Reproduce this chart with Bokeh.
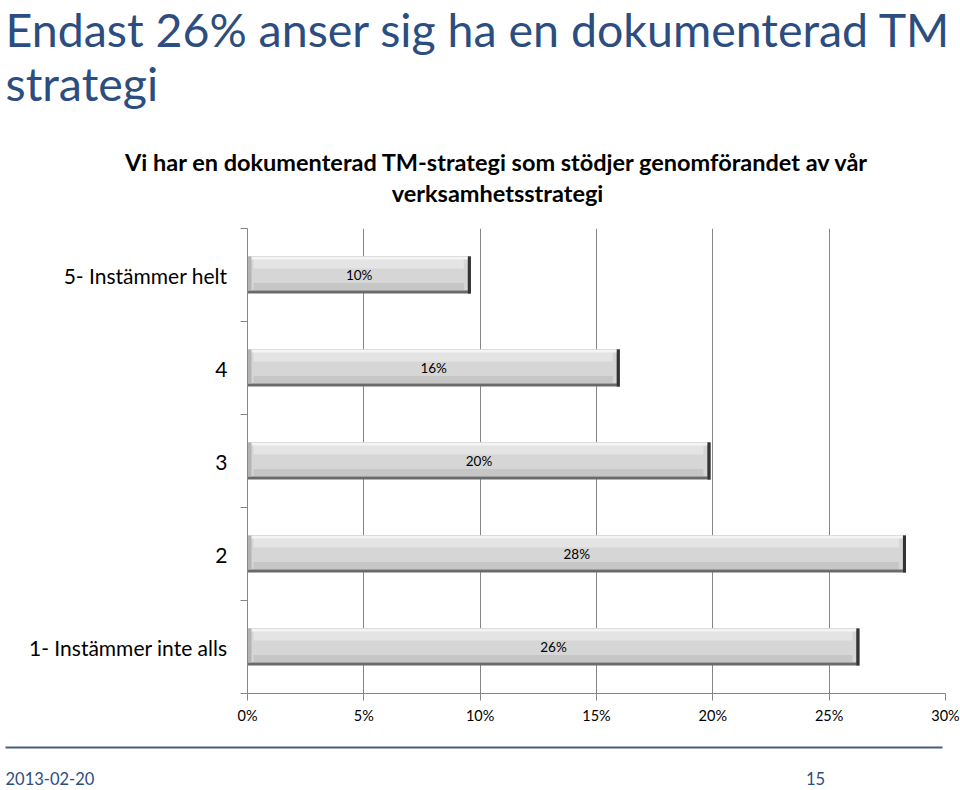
from bokeh.plotting import figure
from bokeh.layouts import column, row
from bokeh.models import Range1d, FixedTicker, PrintfTickFormatter, ColumnDataSource
from bokeh.core.properties import value
from bokeh.embed import file_html
from bokeh.resources import INLINE

# ---- data ----
categories = ["1- Instämmer inte alls", "2", "3", "4", "5- Instämmer helt"]
shares = [26.3, 28.3, 19.9, 16.0, 9.6]          # percent
x_ticks = [0, 5, 10, 15, 20, 25, 30]
title_lines = ["Endast 26% anser sig ha en dokumenterad TM", "strategi"]
subtitle_lines = ["Vi har en dokumenterad TM-strategi som stödjer genomförandet av vår",
                  "verksamhetsstrategi"]
footer_date = "2013-02-20"
footer_page = "15"

FONT = "Lato"
TITLE_COLOR = "#2C4D7F"
AX = "#868686"
W, HGT = 960, 790
FL, FR, FT, FB = 247, 945, 228, 693          # plot frame in page pixels
CH_BOTTOM = 735                              # chart figure bottom in page pixels
XMAX = 30
n = len(categories)
MID = 0.387                                  # baseline -> middle shift (em)


def bare(fig):
    fig.axis.visible = False
    fig.grid.visible = False
    fig.outline_line_color = None
    fig.min_border = 0
    fig.background_fill_color = "white"
    fig.border_fill_color = "white"
    return fig


# ---- header (page pixel coordinates, y downwards) ----
head = bare(figure(width=W, height=FT, x_range=Range1d(0, W), y_range=Range1d(FT, 0),
                   output_backend="svg", toolbar_location=None))
TS = 46.5
head.text(x=[5, 5], y=[46.5 - MID * TS, 100 - MID * TS], text=title_lines, text_font=value(FONT),
          text_font_size=f"{TS}px", text_color=TITLE_COLOR, text_align="left",
          text_baseline="middle")
SS = 23.5
head.text(x=[497, 497], y=[170.5 - MID * SS, 201.5 - MID * SS], text=subtitle_lines,
          text_font=value(FONT), text_font_size=f"{SS}px", text_font_style="bold",
          text_color="black", text_align="center", text_baseline="middle")

# ---- chart ----
p = figure(width=W, height=CH_BOTTOM - FT, x_range=Range1d(0, XMAX), y_range=Range1d(0, n),
           output_backend="svg", toolbar_location=None)
p.min_border_left = FL
p.min_border_right = W - FR
p.min_border_top = 0
p.min_border_bottom = CH_BOTTOM - FB
p.outline_line_color = None
p.background_fill_color = "white"
p.border_fill_color = "white"

p.xaxis.ticker = FixedTicker(ticks=x_ticks)
p.xaxis.formatter = PrintfTickFormatter(format="%d%%")
p.xaxis.axis_line_color = AX
p.xaxis.major_tick_line_color = AX
p.xaxis.major_tick_out = 7
p.xaxis.major_tick_in = 0
p.xaxis.minor_tick_line_color = None
p.xaxis.major_label_standoff = 6
p.xaxis.major_label_text_font = FONT
p.xaxis.major_label_text_font_size = "14.5px"
p.xaxis.major_label_text_color = "black"

ypos = [i + 0.5 for i in range(n)]
p.yaxis.ticker = FixedTicker(ticks=ypos, minor_ticks=list(range(n + 1)))
p.yaxis.major_label_overrides = {y: c for y, c in zip(ypos, categories)}
p.yaxis.axis_line_color = AX
p.yaxis.major_tick_line_color = None
p.yaxis.major_tick_out = 0
p.yaxis.major_tick_in = 0
p.yaxis.minor_tick_line_color = AX
p.yaxis.minor_tick_out = 7
p.yaxis.minor_tick_in = 0
p.yaxis.major_label_standoff = 13
p.yaxis.major_label_text_font = FONT
p.yaxis.major_label_text_font_size = "21px"
p.yaxis.major_label_text_color = "black"

p.ygrid.visible = False
p.xgrid.ticker = FixedTicker(ticks=x_ticks[1:])
p.xgrid.grid_line_color = AX
p.xgrid.grid_line_width = 1

# bevelled grey bars, in layers
src = ColumnDataSource(dict(y=ypos, v=shares, mid=[s / 2 for s in shares],
                            lab=[f"{round(s)}%" for s in shares]))
H = 0.40
px = XMAX / (FR - FL)
py = n / (FB - FT)
p.hbar(y="y", left=0, right="v", height=H, source=src, fill_color="#6a6a6a", line_color=None)
body = ColumnDataSource(dict(y=[y + 1.5 * py for y in ypos], r=[s - 3 * px for s in shares]))
p.hbar(y="y", left=0, right="r", height=H - 3 * py, source=body, fill_color="#d6d6d6", line_color=None)
top = ColumnDataSource(dict(y=[y + H / 2 - 7 * py for y in ypos], r=[s - 7 * px for s in shares]))
p.hbar(y="y", left=6 * px, right="r", height=10 * py, source=top, fill_color="#e4e4e4", line_color=None)
hl = ColumnDataSource(dict(y=[y + H / 2 - 1.5 * py for y in ypos], r=[s - 3 * px for s in shares]))
p.hbar(y="y", left=0, right="r", height=3 * py, source=hl, fill_color="#f4f4f4", line_color=None)
low = ColumnDataSource(dict(y=[y - H / 2 + 7 * py for y in ypos], r=[s - 7 * px for s in shares]))
p.hbar(y="y", left=6 * px, right="r", height=7 * py, source=low, fill_color="#c6c6c6", line_color=None)
lft = ColumnDataSource(dict(y=[y + 1.5 * py for y in ypos]))
p.hbar(y="y", left=0, right=4 * px, height=H - 3 * py, source=lft, fill_color="#b4b4b4", line_color=None)
rgt = ColumnDataSource(dict(y=ypos, l=[s - 3 * px for s in shares], r=shares))
p.hbar(y="y", left="l", right="r", height=H, source=rgt, fill_color="#333333", line_color=None)

p.text(x="mid", y="y", text="lab", source=src, text_font=value(FONT), text_font_size="13.5px",
       text_color="black", text_align="center", text_baseline="middle")

# ---- footer (page pixel coordinates, y downwards) ----
foot = bare(figure(width=W, height=HGT - CH_BOTTOM, x_range=Range1d(0, W),
                   y_range=Range1d(HGT, CH_BOTTOM), output_backend="svg", toolbar_location=None))
foot.line(x=[5, 942], y=[747, 747], line_color="#4A5E7A", line_width=2)
FS = 16.5
foot.text(x=[5], y=[784 - MID * FS], text=[footer_date], text_font=value(FONT),
          text_font_size=f"{FS}px", text_color=TITLE_COLOR, text_align="left",
          text_baseline="middle")
foot.text(x=[815], y=[784 - MID * FS], text=[footer_page], text_font=value(FONT),
          text_font_size=f"{FS}px", text_color=TITLE_COLOR, text_align="center",
          text_baseline="middle")

layout = column(row(head), p, row(foot), spacing=0)
open("out.html", "w").write(file_html(layout, INLINE))
